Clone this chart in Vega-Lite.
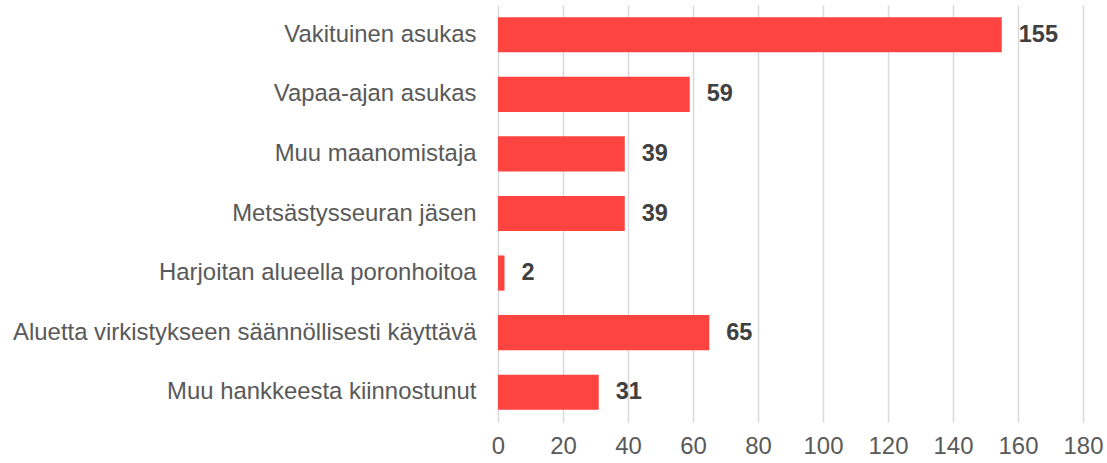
{
  "$schema": "https://vega.github.io/schema/vega-lite/v6.json",
  "autosize": "none",
  "width": 585,
  "height": 417,
  "padding": {"left": 498, "top": 5, "right": 24, "bottom": 41},
  "background": "white",
  "config": {"view": {"stroke": null}, "font": "Liberation Sans"},
  "data": {"values": [
    {"category": "Vakituinen asukas", "count": 155},
    {"category": "Vapaa-ajan asukas", "count": 59},
    {"category": "Muu maanomistaja", "count": 39},
    {"category": "Metsästysseuran jäsen", "count": 39},
    {"category": "Harjoitan alueella poronhoitoa", "count": 2},
    {"category": "Aluetta virkistykseen säännöllisesti käyttävä", "count": 65},
    {"category": "Muu hankkeesta kiinnostunut", "count": 31}
  ]},
  "encoding": {
    "y": {"field": "category", "type": "nominal", "sort": null,
      "scale": {"paddingInner": 0.41, "paddingOuter": 0.205},
      "axis": {"title": null, "domain": false, "ticks": false, "grid": false,
        "labelFont": "Liberation Sans", "labelFontSize": 23.9, "labelColor": "#595959",
        "labelPadding": 22, "labelLimit": 0}},
    "x": {"field": "count", "type": "quantitative",
      "scale": {"domain": [0, 180], "nice": false},
      "axis": {"title": null, "values": [0, 20, 40, 60, 80, 100, 120, 140, 160, 180],
        "domain": false, "ticks": false, "grid": true, "gridColor": "#d9d9d9", "gridWidth": 1.5,
        "labelFont": "Liberation Sans", "labelFontSize": 23.9, "labelColor": "#595959",
        "labelPadding": 12, "labelFlush": false}}
  },
  "layer": [
    {"mark": {"type": "bar", "color": "#fd4440"}},
    {"mark": {"type": "text", "align": "left", "baseline": "middle", "dx": 17,
      "font": "Liberation Sans", "fontWeight": "bold", "fontSize": 23.5, "color": "#404040"},
     "encoding": {"text": {"field": "count", "type": "quantitative"}}}
  ]
}
